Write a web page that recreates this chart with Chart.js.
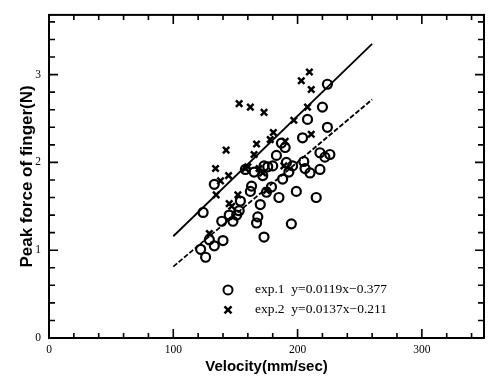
<!DOCTYPE html>
<html>
<head>
<meta charset="utf-8">
<script src="https://cdn.jsdelivr.net/npm/chart.js@4.4.0/dist/chart.umd.min.js"></script>
<style>
  html, body { margin: 0; padding: 0; background: #fff; }
</style>
</head>
<body>
<canvas id="forceChart" width="491" height="379"></canvas>
<script>
// exp.1 (circles)
const exp1Velocity = [124, 122, 126, 129, 133, 140, 139, 133, 145, 148, 151, 154, 153, 162, 163, 165, 170, 168, 167, 173,
  172, 173, 175, 179, 180, 183, 185, 188, 190, 191, 193, 196, 195, 199, 204, 205, 206, 208, 210, 215,
  218, 220, 218, 222, 224, 226, 224, 176, 158, 187];
const exp1Force = [1.43, 1.01, 0.92, 1.12, 1.05, 1.11, 1.33, 1.75, 1.40, 1.33, 1.40, 1.56, 1.45, 1.67, 1.73, 1.89, 1.52, 1.38, 1.31, 1.15,
  1.85, 1.96, 1.66, 1.72, 1.96, 2.08, 1.60, 1.81, 2.17, 2.00, 1.89, 1.96, 1.30, 1.67, 2.28, 2.01, 1.93, 2.49, 1.88, 1.60,
  1.92, 2.63, 2.11, 2.06, 2.40, 2.09, 2.89, 1.95, 1.92, 2.22];

// exp.2 (crosses)
const exp2Velocity = [153, 162, 173, 203, 209.5, 211, 208, 197, 211, 180.5, 178, 167, 165, 190, 142.5, 134, 144.5, 138, 134.5, 158,
  160, 152, 145, 147, 129, 169, 175, 189, 172];
const exp2Force = [2.67, 2.63, 2.57, 2.93, 3.03, 2.83, 2.63, 2.48, 2.32, 2.34, 2.26, 2.21, 2.09, 2.24, 2.14, 1.93, 1.85, 1.79, 1.63, 1.93,
  1.95, 1.63, 1.53, 1.50, 1.19, 1.93, 1.68, 1.96, 1.88];

// regression lines (end points)
const fitVelocity = [100, 260];
const fit1Force = [0.813, 2.717];
const fit2Force = [1.159, 3.351];

const xTickLabels = [0, 100, 200, 300];
const yTickLabels = [0, 1, 2, 3];
const legendLabels = ['exp.1  y=0.0119x\u22120.377', 'exp.2  y=0.0137x\u22120.211'];

const toPoints = (xs, ys) => xs.map((x, i) => ({ x: x, y: ys[i] }));

// box frame with inward ticks on all four sides
const frameTicks = {
  id: 'frameTicks',
  afterDraw(chart) {
    const { ctx, chartArea: a, scales: { x, y } } = chart;
    ctx.save();
    ctx.strokeStyle = '#000';
    ctx.lineWidth = 2;
    ctx.strokeRect(a.left, a.top, a.right - a.left, a.bottom - a.top);
    ctx.lineWidth = 1.6;
    ctx.beginPath();
    for (let v = 20; v < 350; v += 20) {
      const px = x.getPixelForValue(v);
      const len = v % 100 === 0 ? 9 : 5;
      ctx.moveTo(px, a.bottom); ctx.lineTo(px, a.bottom - len);
      ctx.moveTo(px, a.top); ctx.lineTo(px, a.top + len);
    }
    for (let i = 1; i <= 18; i++) {
      const v = i * 0.2;
      const py = y.getPixelForValue(v);
      const len = i % 5 === 0 ? 9 : 6;
      ctx.moveTo(a.left, py); ctx.lineTo(a.left + len, py);
      ctx.moveTo(a.right, py); ctx.lineTo(a.right - len, py);
    }
    ctx.stroke();
    ctx.restore();
  }
};

// legend inside the plot
const innerLegend = {
  id: 'innerLegend',
  afterDraw(chart) {
    const { ctx, chartArea: a } = chart;
    const mx = a.left + 179, tx = a.left + 206;
    const rows = [a.top + 275, a.top + 295];
    ctx.save();
    ctx.strokeStyle = '#000';
    ctx.fillStyle = '#000';
    ctx.lineWidth = 2;
    ctx.beginPath();
    ctx.arc(mx, rows[0], 4.5, 0, Math.PI * 2);
    ctx.stroke();
    ctx.lineWidth = 2.5;
    ctx.beginPath();
    ctx.moveTo(mx - 3.5, rows[1] - 3.5); ctx.lineTo(mx + 3.5, rows[1] + 3.5);
    ctx.moveTo(mx + 3.5, rows[1] - 3.5); ctx.lineTo(mx - 3.5, rows[1] + 3.5);
    ctx.stroke();
    ctx.font = '13.5px "Liberation Serif"';
    ctx.textBaseline = 'middle';
    legendLabels.forEach((t, i) => ctx.fillText(t, tx, rows[i]));
    ctx.restore();
  }
};

new Chart(document.getElementById('forceChart'), {
  type: 'scatter',
  data: {
    datasets: [
      {
        label: 'exp.1',
        data: toPoints(exp1Velocity, exp1Force),
        pointStyle: 'circle',
        pointRadius: 4.5,
        borderWidth: 2.2,
        borderColor: '#000',
        backgroundColor: 'rgba(0,0,0,0)'
      },
      {
        label: 'exp.2',
        data: toPoints(exp2Velocity, exp2Force),
        pointStyle: 'crossRot',
        pointRadius: 4.5,
        borderWidth: 2.5,
        borderColor: '#000'
      },
      {
        label: 'fit exp.1',
        data: toPoints(fitVelocity, fit1Force),
        showLine: true,
        pointRadius: 0,
        borderWidth: 1.8,
        borderDash: [5, 2],
        borderColor: '#000'
      },
      {
        label: 'fit exp.2',
        data: toPoints(fitVelocity, fit2Force),
        showLine: true,
        pointRadius: 0,
        borderWidth: 1.8,
        borderColor: '#000'
      }
    ]
  },
  options: {
    responsive: false,
    animation: false,
    layout: { padding: { top: 10, right: 6, left: 0, bottom: 0 } },
    plugins: {
      legend: { display: false },
      tooltip: { enabled: false }
    },
    scales: {
      x: {
        type: 'linear',
        min: 0,
        max: 350,
        afterBuildTicks: (s) => { s.ticks = xTickLabels.map(v => ({ value: v })); },
        afterFit: (s) => { s.height = 41; },
        grid: { display: false, drawTicks: false },
        border: { display: false },
        ticks: {
          color: '#000',
          padding: 5,
          font: { family: '"Liberation Serif"', size: 11.5 }
        },
        title: {
          display: true,
          text: 'Velocity(mm/sec)',
          color: '#000',
          padding: { top: 0, bottom: 3 },
          font: { family: '"Liberation Sans"', size: 15, weight: 'bold' }
        }
      },
      y: {
        type: 'linear',
        min: 0,
        max: 3.68,
        afterBuildTicks: (s) => { s.ticks = yTickLabels.map(v => ({ value: v })); },
        afterFit: (s) => { s.width = 49; },
        grid: { display: false, drawTicks: false },
        border: { display: false },
        ticks: {
          color: '#000',
          padding: 8,
          font: { family: '"Liberation Serif"', size: 11.5 }
        },
        title: {
          display: true,
          text: 'Peak force of finger(N)',
          color: '#000',
          padding: { top: 17, bottom: 0 },
          font: { family: '"Liberation Sans"', size: 17, weight: 'bold' }
        }
      }
    }
  },
  plugins: [frameTicks, innerLegend]
});
</script>
</body>
</html>
